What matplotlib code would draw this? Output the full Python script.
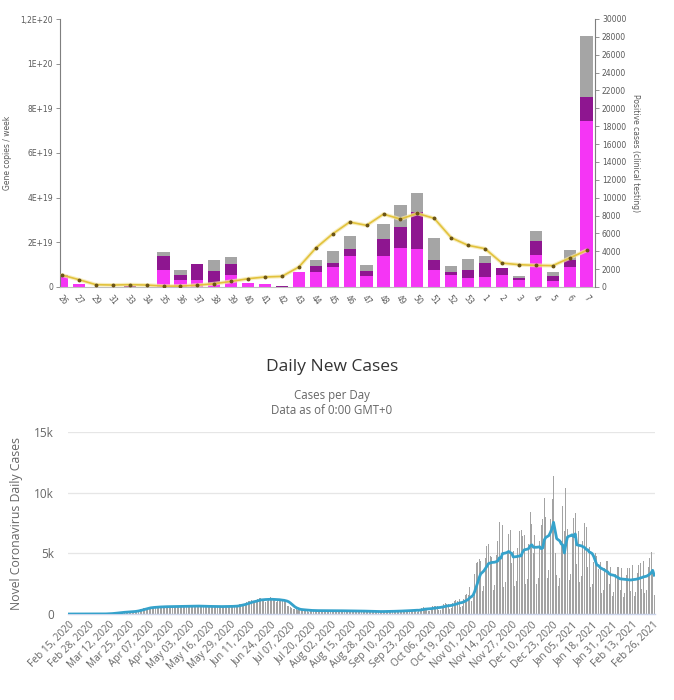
import numpy as np
import pandas as pd
import matplotlib
matplotlib.use("Agg")
import matplotlib.pyplot as plt

# ---------------- Top chart data (units: 1E19 gene copies / week) ----------------
weeks = ['26', '27', '29', '31', '33', '34', '35', '36', '37', '38', '39', '40', '41', '42', '43', '44',
         '45', '46', '47', '48', '49', '50', '51', '52', '53', '1', '2', '3', '4', '5', '6', '7']
pink_vals = [0.45, 0.15, 0.02, 0.02, 0.02, 0.01, 0.78, 0.33, 0.30, 0.18, 0.55, 0.18, 0.13, 0.0, 0.66, 0.67,
             0.88, 1.40, 0.51, 1.40, 1.74, 1.70, 0.75, 0.55, 0.40, 0.45, 0.54, 0.33, 1.45, 0.28, 0.89, 7.44]
purple_vals = [0.10, 0.0, 0.0, 0.0, 0.03, 0.0, 0.62, 0.22, 0.74, 0.52, 0.48, 0.0, 0.0, 0.04, 0.03, 0.25,
               0.21, 0.30, 0.19, 0.75, 0.94, 1.67, 0.47, 0.11, 0.35, 0.62, 0.31, 0.07, 0.62, 0.23, 0.30, 1.08]
gray_vals = [0.0, 0.0, 0.0, 0.0, 0.0, 0.0, 0.15, 0.20, 0.0, 0.49, 0.30, 0.0, 0.0, 0.0, 0.0, 0.30,
             0.52, 0.57, 0.27, 0.67, 0.97, 0.83, 0.97, 0.29, 0.50, 0.33, 0.0, 0.08, 0.42, 0.15, 0.45, 2.72]
positive_cases = [1340, 820, 260, 220, 260, 220, 100, 100, 200, 370, 630, 930, 1120, 1190, 2240, 4360,
                  5950, 7270, 6900, 8160, 7600, 8240, 7680, 5520, 4660, 4290, 2680, 2500, 2420, 2390, 3240, 4100]
left_ticks = [0, 2, 4, 6, 8, 10, 12]
left_tick_labels = ['0', '2E+19', '4E+19', '6E+19', '8E+19', '1E+20', '1,2E+20']
right_ticks = list(range(0, 30001, 2000))

# ---------------- Bottom chart data (daily new cases, from Feb 15, 2020) ----------------
start_date = '2020-02-15'
daily_weeks = [
    [0, 0, 0, 0, 0, 0, 0],
    [0, 0, 0, 0, 0, 0, 0],
    [0, 0, 1, 1, 2, 3, 5],
    [8, 10, 15, 20, 30, 40, 50],
    [70, 80, 100, 120, 140, 150, 160],
    [170, 140, 160, 190, 210, 220, 230],
    [250, 200, 280, 350, 400, 450, 480],
    [520, 450, 500, 560, 600, 580, 570],
    [600, 520, 560, 620, 650, 640, 600],
    [620, 540, 580, 640, 660, 650, 630],
    [640, 560, 600, 680, 700, 690, 660],
    [650, 570, 620, 690, 720, 700, 650],
    [620, 560, 600, 660, 680, 660, 640],
    [600, 540, 580, 650, 660, 640, 620],
    [600, 540, 590, 660, 680, 660, 640],
    [620, 560, 620, 700, 760, 800, 820],
    [820, 760, 850, 950, 1050, 1100, 1150],
    [1100, 950, 1050, 1200, 1350, 1300, 1250],
    [1200, 1000, 1100, 1250, 1400, 1300, 1200],
    [1150, 950, 1050, 1200, 1250, 1200, 1100],
    [950, 700, 650, 560, 480, 420, 380],
    [400, 290, 310, 350, 370, 340, 320],
    [300, 200, 230, 300, 330, 320, 280],
    [290, 190, 220, 290, 320, 310, 270],
    [280, 190, 220, 300, 320, 300, 280],
    [270, 180, 210, 290, 310, 290, 270],
    [260, 170, 200, 270, 300, 280, 260],
    [230, 150, 180, 240, 270, 250, 230],
    [210, 140, 160, 220, 240, 230, 210],
    [230, 150, 170, 240, 260, 250, 230],
    [260, 170, 200, 270, 300, 290, 260],
    [310, 200, 240, 330, 360, 350, 320],
    [400, 180, 220, 430, 520, 540, 510],
    [500, 230, 280, 520, 650, 680, 640],
    [650, 290, 360, 690, 850, 880, 830],
    [850, 380, 470, 900, 1100, 1150, 1100],
    [1200, 540, 660, 1250, 1550, 1650, 1600],
    [2200, 1100, 1400, 3300, 4200, 4300, 4500],
    [4400, 1900, 2300, 4600, 5600, 5800, 4800],
    [4700, 2000, 2400, 4900, 6000, 7600, 4600],
    [7300, 2200, 2600, 5200, 6600, 6900, 4200],
    [5200, 2300, 2700, 5400, 6800, 6900, 6400],
    [6500, 2500, 2900, 5800, 8400, 7400, 5000],
    [6500, 2500, 3000, 6000, 7300, 7800, 9600],
    [8000, 3000, 3600, 7800, 9500, 11400, 5000],
    [3200, 2300, 3000, 6000, 8900, 6800, 10400],
    [7000, 2800, 3300, 6500, 7900, 8300, 4100],
    [6800, 2600, 3100, 6000, 7500, 7200, 3900],
    [5500, 2200, 2500, 4300, 5000, 4800, 3700],
    [4300, 1700, 2000, 3800, 4400, 4400, 2500],
    [3900, 1500, 1800, 3300, 3900, 3900, 2000],
    [3800, 1400, 1700, 3200, 3800, 3800, 1900],
    [4000, 1500, 1800, 3400, 4000, 4200, 2100],
    [4400, 1700, 2000, 3900, 4600, 5100, 3500],
    [1600],
]
y2_ticks = [0, 5000, 10000, 15000]
y2_tick_labels = ['0', '5k', '10k', '15k']

# ---------------- Figure ----------------
fig = plt.figure(figsize=(6.74, 7.0), dpi=100)

# ===== Top chart =====
ax = fig.add_axes([60 / 674, 1 - 287 / 700, 535 / 674, 268 / 700])
x = np.arange(len(weeks))
pink = np.array(pink_vals)
purple = np.array(purple_vals)
gray = np.array(gray_vals)
bw = 0.72
ax.bar(x, pink, width=bw, color='#f535f5', zorder=2)
ax.bar(x, purple, width=bw, bottom=pink, color='#8e1690', zorder=2)
ax.bar(x, gray, width=bw, bottom=pink + purple, color='#a5a5a5', zorder=2)
ax.set_xlim(-0.12, 31.5)
ax.set_ylim(0, 12)
ax.set_yticks(left_ticks)
ax.set_yticklabels(left_tick_labels)
ax.set_xticks(x)
ax.set_xticklabels(weeks, rotation=-50, ha='center', va='top')
tl_col = '#595959'
ax.tick_params(axis='y', direction='out', length=3, width=0.6, color='#808080',
               labelsize=5.5, labelcolor=tl_col, pad=2)
ax.tick_params(axis='x', length=0, labelsize=5.5, labelcolor=tl_col, pad=5)
for s in ['top', 'right']:
    ax.spines[s].set_visible(False)
ax.spines['left'].set_color('#7f7f7f')
ax.spines['left'].set_linewidth(0.8)
ax.spines['bottom'].set_color('#bfbfbf')
ax.spines['bottom'].set_linewidth(0.8)
ax.set_ylabel('Gene copies / week', fontsize=5.5, color=tl_col, labelpad=6)

axr = ax.twinx()
axr.set_ylim(0, 30000)
axr.set_yticks(right_ticks)
axr.set_yticklabels([str(v) for v in right_ticks])
axr.tick_params(axis='y', direction='out', length=3, width=0.6, color='#808080',
                labelsize=5.5, labelcolor=tl_col, pad=2)
for s in ['top', 'left', 'bottom']:
    axr.spines[s].set_visible(False)
axr.spines['right'].set_color('#7f7f7f')
axr.spines['right'].set_linewidth(0.8)
axr.set_ylabel('Positive cases (clinical testing)', fontsize=5.5, color=tl_col,
               rotation=270, labelpad=10)
axr.plot(x, positive_cases, color='#f5e7a8', lw=2.8, alpha=0.7, zorder=3, solid_capstyle='round')
axr.plot(x, positive_cases, color='#e2c23c', lw=1.2, zorder=4)
axr.plot(x, positive_cases, 'o', color='#6b5416', ms=1.8, zorder=5)

# ===== Bottom chart =====
daily = np.concatenate([np.array(w, dtype=float) for w in daily_weeks])
dates = pd.date_range(start_date, periods=len(daily), freq='D')
ma7 = pd.Series(daily).rolling(7, min_periods=1).mean().values
idx = np.arange(len(daily))

bx = fig.add_axes([68 / 674, 1 - 614 / 700, 587 / 674, 182 / 700])
bx.bar(idx, daily, width=0.65, color='#a3a3a3', zorder=2)
bx.plot(idx, ma7, color='#35a2cb', lw=2.0, zorder=3)
bx.set_xlim(-0.5, len(daily) - 0.5)
bx.set_ylim(0, 15000)
bx.set_yticks(y2_ticks)
bx.set_yticklabels(y2_tick_labels)
bx.grid(axis='y', color='#e6e6e6', lw=0.9, zorder=0)
bx.set_axisbelow(True)
for s in ['top', 'right', 'left']:
    bx.spines[s].set_visible(False)
bx.spines['bottom'].set_color('#ccd6eb')
bx.spines['bottom'].set_linewidth(1.0)
tick_idx = idx[::13]
bx.set_xticks(tick_idx)
bx.set_xticklabels([dates[i].strftime('%b %d, %Y') for i in tick_idx],
                   rotation=45, ha='right', rotation_mode='anchor',
                   fontfamily='Open Sans')
bx.tick_params(axis='x', length=0, labelsize=7.3, labelcolor='#666666', pad=4)
bx.tick_params(axis='y', length=0, labelsize=8.5, labelcolor='#666666', pad=10)
for lab in bx.get_yticklabels():
    lab.set_fontfamily('Open Sans')
bx.set_ylabel('Novel Coronavirus Daily Cases', fontsize=8.8, color='#666666',
              fontfamily='Open Sans', labelpad=8)

fig.text(0.4926, 1 - 367 / 700, 'Daily New Cases', ha='center', va='center',
         fontsize=12.5, color='#333333', fontfamily='Open Sans')
fig.text(0.4926, 1 - 396 / 700, 'Cases per Day', ha='center', va='center',
         fontsize=8.3, color='#666666', fontfamily='Open Sans')
fig.text(0.4926, 1 - 410 / 700, 'Data as of 0:00 GMT+0', ha='center', va='center',
         fontsize=8.3, color='#666666', fontfamily='Open Sans')

fig.savefig('out.png', dpi=100, facecolor='white')
